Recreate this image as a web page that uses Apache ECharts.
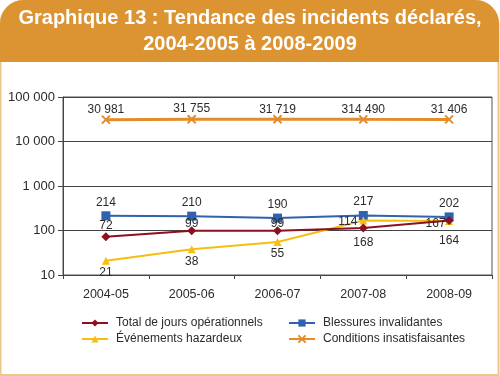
<!DOCTYPE html>
<html>
<head>
<meta charset="utf-8">
<script src="https://cdn.jsdelivr.net/npm/echarts@6/dist/echarts.min.js"></script>
<style>
  html, body { margin: 0; padding: 0; background: #ffffff; }
  #chart { width: 500px; height: 376px; }
</style>
</head>
<body>
<div id="chart"></div>
<script>
const years = ['2004-05', '2005-06', '2006-07', '2007-08', '2008-09']
const joursOperationnels = [72, 99, 99, 114, 167]
const blessures = [214, 210, 190, 217, 202]
const evenements = [21, 38, 55, 168, 164]
const conditions = [30981, 31755, 31719, 31449, 31406]
// the source prints this label as "314 490" while plotting ~31 449
const conditionsLabels = ['30 981', '31 755', '31 719', '314 490', '31 406']
const yTicks = [10, 100, 1000, 10000, 100000]

const FONT = '"Liberation Sans", Arial, sans-serif'
const TXT = '#2b2b2b'

const fmt = (v) => String(v).replace(/\B(?=(\d{3})+(?!\d))/g, ' ')

const labelStyle = {fontSize: 12, color: TXT, fontFamily: FONT}

// label placement tweaks per point, to avoid collisions like in the original
const redLabelTweaks = [
  {distance: 1},
  {distance: -3},
  {distance: -3},
  {position: 'left', distance: 1.5, offset: [0, -6]},
  {position: 'left', distance: -1, offset: [0, 3]}
]
const yellowLabelTweaks = [{}, {}, {}, {distance: 12}, {distance: 10}]

const myChart = echarts.init(document.getElementById('chart'), null, {renderer: 'canvas'})

const option = {
  animation: false,
  backgroundColor: '#ffffff',
  textStyle: {fontFamily: FONT},
  graphic: [
    {
      type: 'rect',
      shape: {x: 0.5, y: 0.5, width: 498, height: 374.5, r: [24, 24, 0, 0]},
      style: {fill: '#ffffff', stroke: '#efc58e', lineWidth: 2},
      z: -10
    },
    {
      type: 'rect',
      shape: {x: 0, y: 0, width: 499, height: 62, r: [24, 24, 0, 0]},
      style: {fill: '#dc9332'},
      z: -9
    },
    {
      type: 'text',
      left: 'center',
      top: 5,
      style: {
        text: 'Graphique 13 : Tendance des incidents déclarés,\n2004-2005 à 2008-2009',
        fill: '#ffffff',
        font: 'bold 20px "Liberation Sans", sans-serif',
        textAlign: 'center',
        lineHeight: 26
      }
    }
  ],
  legend: [
    {
      data: ['Total de jours opérationnels', 'Événements hazardeux'],
      orient: 'vertical',
      left: 76,
      top: 312,
      itemWidth: 26,
      itemHeight: 9,
      itemGap: 4,
      textStyle: {fontSize: 12, color: TXT, fontFamily: FONT, padding: [0, 0, 0, 3]}
    },
    {
      data: ['Blessures invalidantes', 'Conditions insatisfaisantes'],
      orient: 'vertical',
      left: 283,
      top: 312,
      itemWidth: 26,
      itemHeight: 9,
      itemGap: 4,
      textStyle: {fontSize: 12, color: TXT, fontFamily: FONT, padding: [0, 0, 0, 3]}
    }
  ],
  grid: {
    left: 63,
    right: 8,
    top: 97,
    bottom: 101,
    show: true,
    borderColor: '#555555',
    borderWidth: 1
  },
  xAxis: {
    type: 'category',
    data: years,
    boundaryGap: true,
    axisLine: {lineStyle: {color: '#444444'}},
    axisTick: {show: true, length: 4, lineStyle: {color: '#444444'}},
    axisLabel: {...labelStyle, fontSize: 12.5, margin: 13}
  },
  yAxis: {
    type: 'log',
    logBase: 10,
    min: yTicks[0],
    max: yTicks[yTicks.length - 1],
    axisLine: {show: true, lineStyle: {color: '#444444'}},
    axisTick: {show: true, length: 5, lineStyle: {color: '#444444'}},
    axisLabel: {...labelStyle, fontSize: 13, margin: 8, formatter: (v) => fmt(Math.round(v))},
    splitLine: {lineStyle: {color: '#444444', width: 1}},
    minorTick: {show: false}
  },
  series: [
    {
      name: 'Conditions insatisfaisantes',
      type: 'line',
      data: conditions,
      color: '#e28c2a',
      symbol: 'path://M0,0 L10,10 M10,0 L0,10 M0,0 L10,10',
      symbolSize: 8,
      lineStyle: {width: 3, color: '#e28c2a'},
      itemStyle: {color: '#e28c2a', borderColor: '#e28c2a', borderWidth: 2},
      label: {
        show: true, position: 'top', distance: -1, ...labelStyle,
        formatter: (p) => conditionsLabels[p.dataIndex]
      },
      z: 3
    },
    {
      name: 'Blessures invalidantes',
      type: 'line',
      data: blessures,
      color: '#2f62b0',
      symbol: 'rect',
      symbolSize: 9,
      lineStyle: {width: 2, color: '#2f62b0'},
      itemStyle: {color: '#2f62b0'},
      label: {show: true, position: 'top', distance: 3, ...labelStyle, formatter: (p) => fmt(p.value)},
      z: 3
    },
    {
      name: 'Événements hazardeux',
      type: 'line',
      data: evenements.map((v, i) => ({value: v, label: yellowLabelTweaks[i]})),
      color: '#f7bd12',
      symbol: 'triangle',
      symbolSize: 8,
      lineStyle: {width: 2, color: '#f7bd12'},
      itemStyle: {color: '#f7bd12'},
      label: {show: true, position: 'bottom', distance: 2, ...labelStyle, formatter: (p) => fmt(p.value)},
      z: 4
    },
    {
      name: 'Total de jours opérationnels',
      type: 'line',
      data: joursOperationnels.map((v, i) => ({value: v, label: redLabelTweaks[i]})),
      color: '#8b1020',
      symbol: 'diamond',
      symbolSize: 9,
      lineStyle: {width: 2, color: '#8b1020'},
      itemStyle: {color: '#8b1020'},
      label: {show: true, position: 'top', distance: 1, ...labelStyle, formatter: (p) => fmt(p.value)},
      z: 5
    }
  ]
}

myChart.setOption(option)
</script>
</body>
</html>
